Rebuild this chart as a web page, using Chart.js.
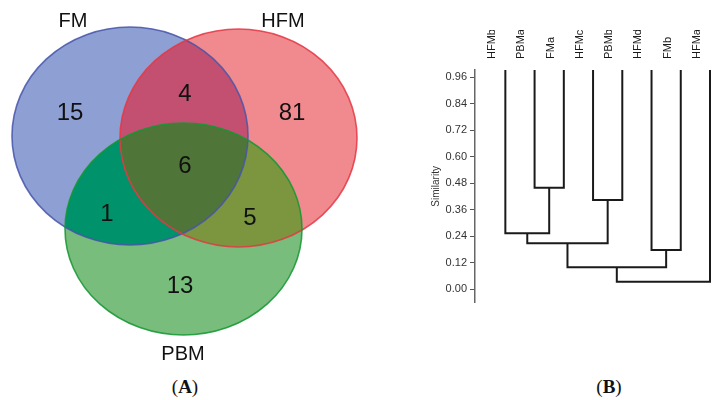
<!DOCTYPE html>
<html>
<head>
<meta charset="utf-8">
<script src="https://cdn.jsdelivr.net/npm/chart.js@4"></script>
<style>
  body { margin: 0; background: #fff; width: 721px; height: 400px; position: relative; overflow: hidden; }
  canvas { position: absolute; top: 0; }
  #venn { left: 0; }
  #dendro { left: 370px; }
  .panel { position: absolute; top: 376px; font: 19px 'Liberation Serif', 'Times New Roman', serif; color: #111; transform: translateX(-50%); }
</style>
</head>
<body>
<canvas id="venn" width="370" height="370"></canvas>
<canvas id="dendro" width="351" height="340"></canvas>
<div class="panel" style="left:185px">(<b>A</b>)</div>
<div class="panel" style="left:609px">(<b>B</b>)</div>
<script>
// --- data ---
const setNames = ['FM', 'HFM', 'PBM'];
// regions: FM only, HFM only, PBM only, FM&HFM, FM&PBM, HFM&PBM, all three
const regionCounts = [15, 81, 13, 4, 1, 5, 6];

const leaves = ['HFMb', 'PBMa', 'FMa', 'HFMc', 'PBMb', 'HFMd', 'FMb', 'HFMa'];
// merges C1..C7, children are leaf names or earlier merges
const mergeLeft = ['PBMa', 'HFMb', 'HFMc', 'C2', 'HFMd', 'C4', 'C6'];
const mergeRight = ['FMa', 'C1', 'PBMb', 'C3', 'FMb', 'C5', 'HFMa'];
const mergeHeight = [0.46, 0.254, 0.404, 0.208, 0.178, 0.10, 0.034];
const yTicks = [0, 0.12, 0.24, 0.36, 0.48, 0.60, 0.72, 0.84, 0.96];

// --- venn layout (in scale units) ---
const setShapes = [
    { cx: 130, cy: 136, rx: 118, ry: 109 },
    { cx: 238.5, cy: 138, rx: 118.5, ry: 109 },
    { cx: 183.5, cy: 229, rx: 118.5, ry: 106 }
];
const setLabelPos = [[73, 21], [283, 21], [183, 354]];
const regionPos = [[70, 113], [292, 113], [180, 286], [185, 94], [107, 214], [250, 218], [185, 166]];

const soloColors = ['#8e9fd3', '#f08a8f', '#78bd7b'];
const pairColors = { '0-1': '#c35070', '0-2': '#00926a', '1-2': '#7b963e' };
const tripleColor = '#4f7638';
const strokeColors = ['rgba(70,85,170,0.85)', 'rgba(228,55,68,0.85)', 'rgba(20,150,50,0.85)'];

Chart.defaults.font.family = "'Liberation Sans', Arial, sans-serif";

const vennPlugin = {
    id: 'venn',
    beforeDatasetsDraw(chart) {
        const { ctx, scales: { x, y } } = chart;
        const path = s => {
            const px = x.getPixelForValue(s.cx), py = y.getPixelForValue(s.cy);
            const rx = x.getPixelForValue(s.cx + s.rx) - px;
            const ry = y.getPixelForValue(s.cy + s.ry) - py;
            ctx.beginPath();
            ctx.ellipse(px, py, Math.abs(rx), Math.abs(ry), 0, 0, Math.PI * 2);
        };
        ctx.save();
        setShapes.forEach((s, i) => { path(s); ctx.fillStyle = soloColors[i]; ctx.fill(); });
        [[0, 1], [0, 2], [1, 2]].forEach(([a, b]) => {
            ctx.save();
            path(setShapes[a]); ctx.clip();
            path(setShapes[b]); ctx.fillStyle = pairColors[a + '-' + b]; ctx.fill();
            ctx.restore();
        });
        ctx.save();
        path(setShapes[0]); ctx.clip();
        path(setShapes[1]); ctx.clip();
        path(setShapes[2]); ctx.fillStyle = tripleColor; ctx.fill();
        ctx.restore();
        ctx.lineWidth = 1.6;
        setShapes.forEach((s, i) => { path(s); ctx.strokeStyle = strokeColors[i]; ctx.stroke(); });
        ctx.restore();
    },
    afterDatasetsDraw(chart) {
        const { ctx, scales: { x, y } } = chart;
        const meta = chart.getDatasetMeta(0);
        ctx.save();
        ctx.textAlign = 'center';
        ctx.textBaseline = 'middle';
        ctx.fillStyle = '#111';
        ctx.font = "24px 'Liberation Sans', Arial, sans-serif";
        meta.data.forEach((pt, i) => ctx.fillText(String(regionCounts[i]), pt.x, pt.y));
        ctx.font = "20px 'Liberation Sans', Arial, sans-serif";
        setNames.forEach((n, i) => ctx.fillText(n, x.getPixelForValue(setLabelPos[i][0]), y.getPixelForValue(setLabelPos[i][1])));
        ctx.restore();
    }
};

new Chart(document.getElementById('venn'), {
    type: 'scatter',
    data: {
        datasets: [{
            data: regionPos.map(p => ({ x: p[0], y: p[1] })),
            pointRadius: 0
        }]
    },
    options: {
        responsive: false,
        animation: false,
        layout: { padding: 0 },
        plugins: { legend: { display: false }, tooltip: { enabled: false } },
        scales: {
            x: { type: 'linear', min: 0, max: 370, display: false },
            y: { type: 'linear', min: 0, max: 370, reverse: true, display: false }
        }
    },
    plugins: [vennPlugin]
});

// --- dendrogram ---
const leafTop = 0.993;
function buildTree() {
    const pos = {}, h = {};
    leaves.forEach((l, i) => { pos[l] = i; h[l] = leafTop; });
    return mergeLeft.map((a, k) => {
        const b = mergeRight[k], m = mergeHeight[k];
        const ds = {
            data: [{ x: pos[a], y: h[a] }, { x: pos[a], y: m }, { x: pos[b], y: m }, { x: pos[b], y: h[b] }],
            showLine: true,
            borderColor: '#1a1a1a',
            borderWidth: 2,
            borderJoinStyle: 'miter',
            pointRadius: 0,
            fill: false
        };
        pos['C' + (k + 1)] = (pos[a] + pos[b]) / 2;
        h['C' + (k + 1)] = m;
        return ds;
    });
}

new Chart(document.getElementById('dendro'), {
    type: 'scatter',
    data: { datasets: buildTree() },
    options: {
        responsive: false,
        animation: false,
        layout: { padding: { top: 30, left: 60, right: 0, bottom: 37.3 } },
        plugins: { legend: { display: false }, tooltip: { enabled: false } },
        scales: {
            x: {
                type: 'linear',
                position: 'top',
                min: -1.038,
                max: 7.28,
                grid: { display: false, drawTicks: false },
                border: { display: false },
                afterBuildTicks: s => { s.ticks = leaves.map((_, i) => ({ value: i })); },
                afterFit: s => { s.height = 40; },
                ticks: {
                    autoSkip: false,
                    minRotation: 90,
                    maxRotation: 90,
                    padding: 11,
                    color: '#1a1a1a',
                    font: { size: 11 },
                    callback: v => leaves[v]
                }
            },
            y: {
                type: 'linear',
                min: -0.0607,
                max: leafTop,
                afterBuildTicks: s => { s.ticks = yTicks.map(v => ({ value: v })); },
                afterFit: s => { s.width = 45; },
                grid: { display: true, drawOnChartArea: false, drawTicks: true, tickLength: 5, color: '#555' },
                border: { display: true, color: '#666', width: 1.5 },
                ticks: { padding: 3, color: '#333', font: { size: 11 }, callback: v => v.toFixed(2) },
                title: { display: true, text: 'Similarity', color: '#333', font: { size: 10 }, padding: 0 }
            }
        }
    }
});
</script>
</body>
</html>
